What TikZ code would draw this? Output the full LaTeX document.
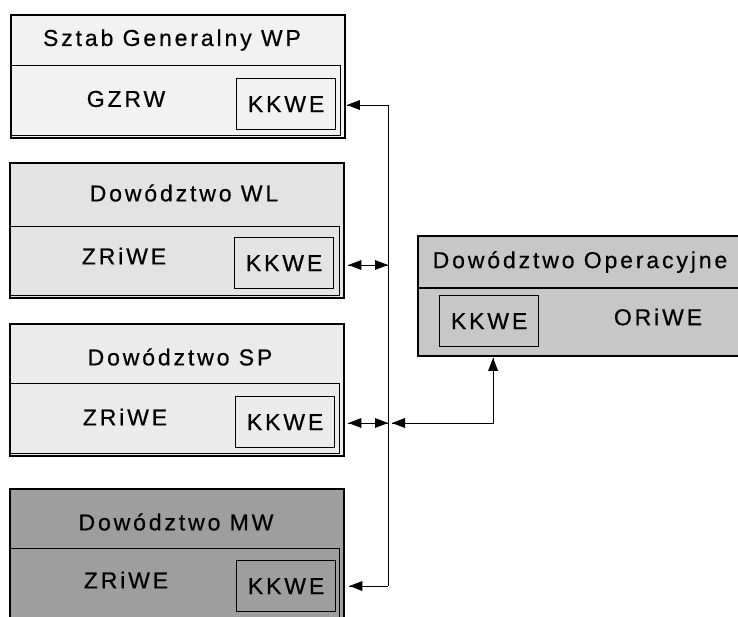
\documentclass[tikz,border=0pt]{standalone}
\usepackage{fontspec}
\setmainfont{Liberation Sans}[LetterSpace=12.5, FakeBold=0.6]
\definecolor{cA}{gray}{0.95}
\definecolor{cB}{gray}{0.89}
\definecolor{cC}{gray}{0.92}
\definecolor{cD}{gray}{0.62}
\definecolor{cE}{gray}{0.78}
\tikzset{
  outerbox/.style={draw, line width=2.4pt, inner sep=0pt, anchor=north west},
  lowerbox/.style={draw, line width=1.1pt, inner sep=0pt, anchor=north west},
  kkbox/.style={draw, line width=1.2pt, inner sep=0pt, anchor=north west,
    minimum width=99pt, minimum height=51pt, font=\fontsize{23}{26}\selectfont},
  lbl/.style={inner sep=0pt, font=\fontsize{23}{26}\selectfont},
  conn/.style={line width=1pt},
  tipfill/.style={fill=black}
}
% arrow heads (tip at given coordinate); y axis points down
\newcommand\tipLeft[1]{\fill[tipfill] (#1) -- ++(13,-5) -- ++(0,10) -- cycle;}
\newcommand\tipRight[1]{\fill[tipfill] (#1) -- ++(-13,-5) -- ++(0,10) -- cycle;}
\newcommand\tipUp[1]{\fill[tipfill] (#1) -- ++(-5,13) -- ++(10,0) -- cycle;}
\begin{document}
\begin{tikzpicture}[x=1pt,y=-1pt]
\fill[white] (0,0) rectangle (738,616);
\useasboundingbox (0,0) rectangle (738,616);
% Sztab Generalny WP
\node[outerbox, fill=cA, minimum width=334pt, minimum height=123pt] (sg) at (10,14) {};
\node[lowerbox, minimum width=330pt, minimum height=70pt] (sgl) at (10,65) {};
\node[kkbox] (k1) at (236,78) {KKWE};
\node[lbl] (h1) at (172,40) {Sztab Generalny WP};
\node[lbl] (t1) at (126,99) {GZRW};
% Dowodztwo WL
\node[outerbox, fill=cB, minimum width=334pt, minimum height=135pt] (wl) at (9,162) {};
\node[lowerbox, minimum width=330pt, minimum height=69pt] (wll) at (9,226) {};
\node[kkbox] (k2) at (234,237) {KKWE};
\node[lbl] (h2) at (184,193) {Dowództwo WL};
\node[lbl] (t2) at (124,256) {ZRiWE};
% Dowodztwo SP
\node[outerbox, fill=cC, minimum width=334pt, minimum height=132pt] (sp) at (9,323) {};
\node[lowerbox, minimum width=330pt, minimum height=70pt] (spl) at (9,383) {};
\node[kkbox] (k3) at (235,396) {KKWE};
\node[lbl] (h3) at (180,357) {Dowództwo SP};
\node[lbl] (t3) at (125,417) {ZRiWE};
% Dowodztwo MW
\node[outerbox, fill=cD, minimum width=334pt, minimum height=150pt] (mw) at (9,488) {};
\node[lowerbox, minimum width=330pt, minimum height=100pt] (mwl) at (9,548) {};
\node[kkbox] (k4) at (236,560) {KKWE};
\node[lbl] (h4) at (176,522) {Dowództwo MW};
\node[lbl] (t4) at (126,580) {ZRiWE};
% Dowodztwo Operacyjne
\node[outerbox, fill=cE, minimum width=340pt, minimum height=120pt] (op) at (417,235) {};
\draw[line width=1.2pt] (op.west |- 0,288) -- (op.east |- 0,288);
\node[kkbox] (k5) at (439,295) {KKWE};
\node[lbl] (h5) at (580,262) {Dowództwo Operacyjne};
\node[lbl] (t5) at (658,317) {ORiWE};
% connectors
\coordinate (bt) at (388,105);
\coordinate (bb) at (388,586);
\coordinate (bw) at (388,265);
\coordinate (bs) at (388,423);
\coordinate (e1) at ([xshift=0.5pt]sg.east |- bt);
\coordinate (e4) at ([xshift=4pt]mw.east |- bb);
\coordinate (e2) at ([xshift=3pt]wl.east |- bw);
\coordinate (e3) at ([xshift=3pt]sp.east |- bs);
\coordinate (eb) at ([xshift=4pt]bs);
\coordinate (eo) at ([xshift=4pt,yshift=-0.5pt]op.south -| k5.south);
\draw[conn] (bt) -- (bb);
\draw[conn] (bt) -- (e1); \tipLeft{e1}
\draw[conn] (bb) -- (e4); \tipLeft{e4}
\draw[conn] (e2) -- (bw); \tipLeft{e2} \tipRight{bw}
\draw[conn] (e3) -- (bs); \tipLeft{e3} \tipRight{bs}
\draw[conn] (eb) -| (eo); \tipLeft{eb} \tipUp{eo}
\end{tikzpicture}
\end{document}
